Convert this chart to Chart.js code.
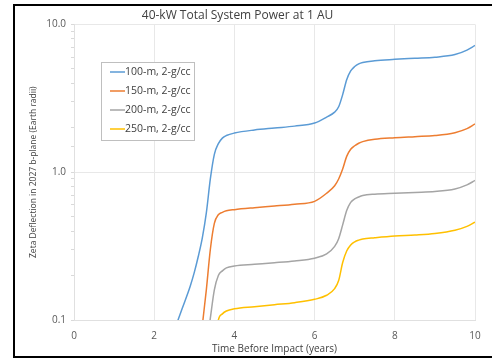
<!DOCTYPE html>
<html lang="en">
<head>
    <meta charset="UTF-8">
    <title>40-kW Total System Power at 1 AU</title>
    <script src="https://cdn.jsdelivr.net/npm/chart.js"></script>
    <style>
        html, body {
            margin: 0;
            padding: 0;
            background: #fff;
        }
        #wrap {
            position: relative;
            width: 492px;
            height: 358px;
        }
        #frame {
            position: absolute;
            left: 13px;
            top: 4px;
            width: 480px;
            height: 350px;
            border: 2px solid #000;
            border-right: none;
            pointer-events: none;
        }
    </style>
</head>
<body>

<div id="wrap">
    <canvas id="chart" width="492" height="358"></canvas>
    <div id="frame"></div>
</div>

<script>
    // time before impact (years)
    const years = [2.5, 2.7, 2.9, 3.0, 3.1, 3.2, 3.3, 3.4, 3.5, 3.6, 3.7, 3.8, 4.0, 4.5, 5.0, 5.5, 6.0, 6.3,
                   6.5, 6.6, 6.7, 6.8, 6.9, 7.0, 7.1, 7.2, 7.5, 8.0, 8.5, 9.0, 9.5, 9.8, 10.0];

    const seriesLabels = ['100-m, 2-g/cc', '150-m, 2-g/cc', '200-m, 2-g/cc', '250-m, 2-g/cc'];

    // zeta deflection (Earth radii)
    const d100 = [0.085, 0.12, 0.17, 0.21, 0.27, 0.36, 0.53, 0.9, 1.32, 1.56, 1.7, 1.77, 1.84, 1.93, 1.99,
                  2.05, 2.15, 2.36, 2.55, 2.77, 3.35, 4.22, 4.84, 5.19, 5.41, 5.53, 5.68, 5.8, 5.9, 6.0, 6.25,
                  6.7, 7.2];
    const d150 = [null, null, null, null, 0.05, 0.092, 0.16, 0.3, 0.45, 0.515, 0.535, 0.548, 0.558, 0.575,
                  0.59, 0.607, 0.635, 0.72, 0.81, 0.9, 1.05, 1.28, 1.43, 1.51, 1.57, 1.61, 1.67, 1.71, 1.74,
                  1.77, 1.85, 1.97, 2.12];
    const d200 = [null, null, null, null, null, null, 0.065, 0.103, 0.16, 0.2, 0.215, 0.225, 0.232, 0.238,
                  0.244, 0.251, 0.262, 0.28, 0.315, 0.355, 0.44, 0.55, 0.625, 0.66, 0.68, 0.695, 0.71, 0.72,
                  0.73, 0.74, 0.77, 0.82, 0.88];
    const d250 = [null, null, null, null, null, null, null, null, 0.06, 0.1, 0.11, 0.115, 0.119, 0.123,
                  0.127, 0.131, 0.138, 0.147, 0.163, 0.185, 0.245, 0.293, 0.322, 0.338, 0.347, 0.353, 0.36,
                  0.37, 0.376, 0.385, 0.405, 0.43, 0.46];

    const colors = ['#5b9bd5', '#ed7d31', '#a5a5a5', '#ffc000'];
    const font = "'Open Sans', 'Liberation Sans', sans-serif";

    function isDecade(v) {
        const l = Math.log10(v);
        return Math.abs(l - Math.round(l)) < 1e-6;
    }

    const datasets = [d100, d150, d200, d250].map((vals, i) => ({
        label: seriesLabels[i],
        data: years.map((t, j) => ({ x: t, y: vals[j] })),
        borderColor: colors[i],
        backgroundColor: colors[i],
        borderWidth: 1.5,
        pointRadius: 0,
        cubicInterpolationMode: 'monotone',
        fill: false
    }));

    // legend box drawn inside the plot, like the original
    const boxLegend = {
        id: 'boxLegend',
        afterDraw(chart) {
            const c = chart.ctx;
            const x = 101, y = 62, w = 93, h = 78;
            c.save();
            c.fillStyle = '#fff';
            c.fillRect(x, y, w, h);
            c.strokeStyle = '#bfbfbf';
            c.lineWidth = 1;
            c.strokeRect(x + 0.5, y + 0.5, w, h);
            c.font = '10.5px ' + font;
            c.textBaseline = 'middle';
            chart.data.datasets.forEach((ds, i) => {
                const ly = y + 10 + i * 19;
                c.strokeStyle = ds.borderColor;
                c.lineWidth = 1.5;
                c.beginPath();
                c.moveTo(x + 9, ly);
                c.lineTo(x + 24, ly);
                c.stroke();
                c.fillStyle = '#404040';
                c.fillText(ds.label, x + 24, ly);
            });
            c.restore();
        }
    };

    new Chart(document.getElementById('chart'), {
        type: 'line',
        data: { datasets },
        plugins: [boxLegend],
        options: {
            responsive: false,
            animation: false,
            layout: { padding: { left: 0, right: 17, top: 0, bottom: 0 } },
            plugins: {
                legend: { display: false },
                tooltip: { enabled: false },
                title: {
                    display: true,
                    text: '40-kW Total System Power at 1 AU',
                    color: '#404040',
                    font: { family: font, size: 12, weight: 'normal' },
                    padding: { top: 8, bottom: 2 }
                }
            },
            scales: {
                x: {
                    type: 'linear',
                    min: 0,
                    max: 10,
                    ticks: {
                        stepSize: 2,
                        color: '#595959',
                        font: { family: font, size: 10 },
                        padding: 10
                    },
                    grid: { color: '#e8e8e8', tickLength: 0 },
                    border: { color: '#e0e0e0' },
                    title: {
                        display: true,
                        text: 'Time Before Impact (years)',
                        color: '#404040',
                        font: { family: font, size: 10 },
                        padding: { top: 0, bottom: 3 }
                    },
                    afterFit(scale) { scale.height = 38; }
                },
                y: {
                    type: 'logarithmic',
                    min: 0.1,
                    max: 10,
                    ticks: {
                        autoSkip: false,
                        color: '#595959',
                        font: { family: font, size: 10 },
                        padding: 5,
                        callback: (v) => isDecade(v) ? Number(v).toFixed(1) : ''
                    },
                    grid: {
                        color: (ctx) => ctx.tick && isDecade(ctx.tick.value) ? '#e8e8e8' : 'rgba(0,0,0,0)',
                        tickColor: '#d9d9d9',
                        tickLength: 3
                    },
                    border: { color: '#e0e0e0' },
                    title: {
                        display: true,
                        text: 'Zeta Deflection in 2027 b-plane (Earth radii)',
                        color: '#404040',
                        font: { family: font, size: 8.5 },
                        padding: { top: 28, bottom: 0 }
                    },
                    afterFit(scale) { scale.width = 74; }
                }
            }
        }
    });
</script>

</body>
</html>
